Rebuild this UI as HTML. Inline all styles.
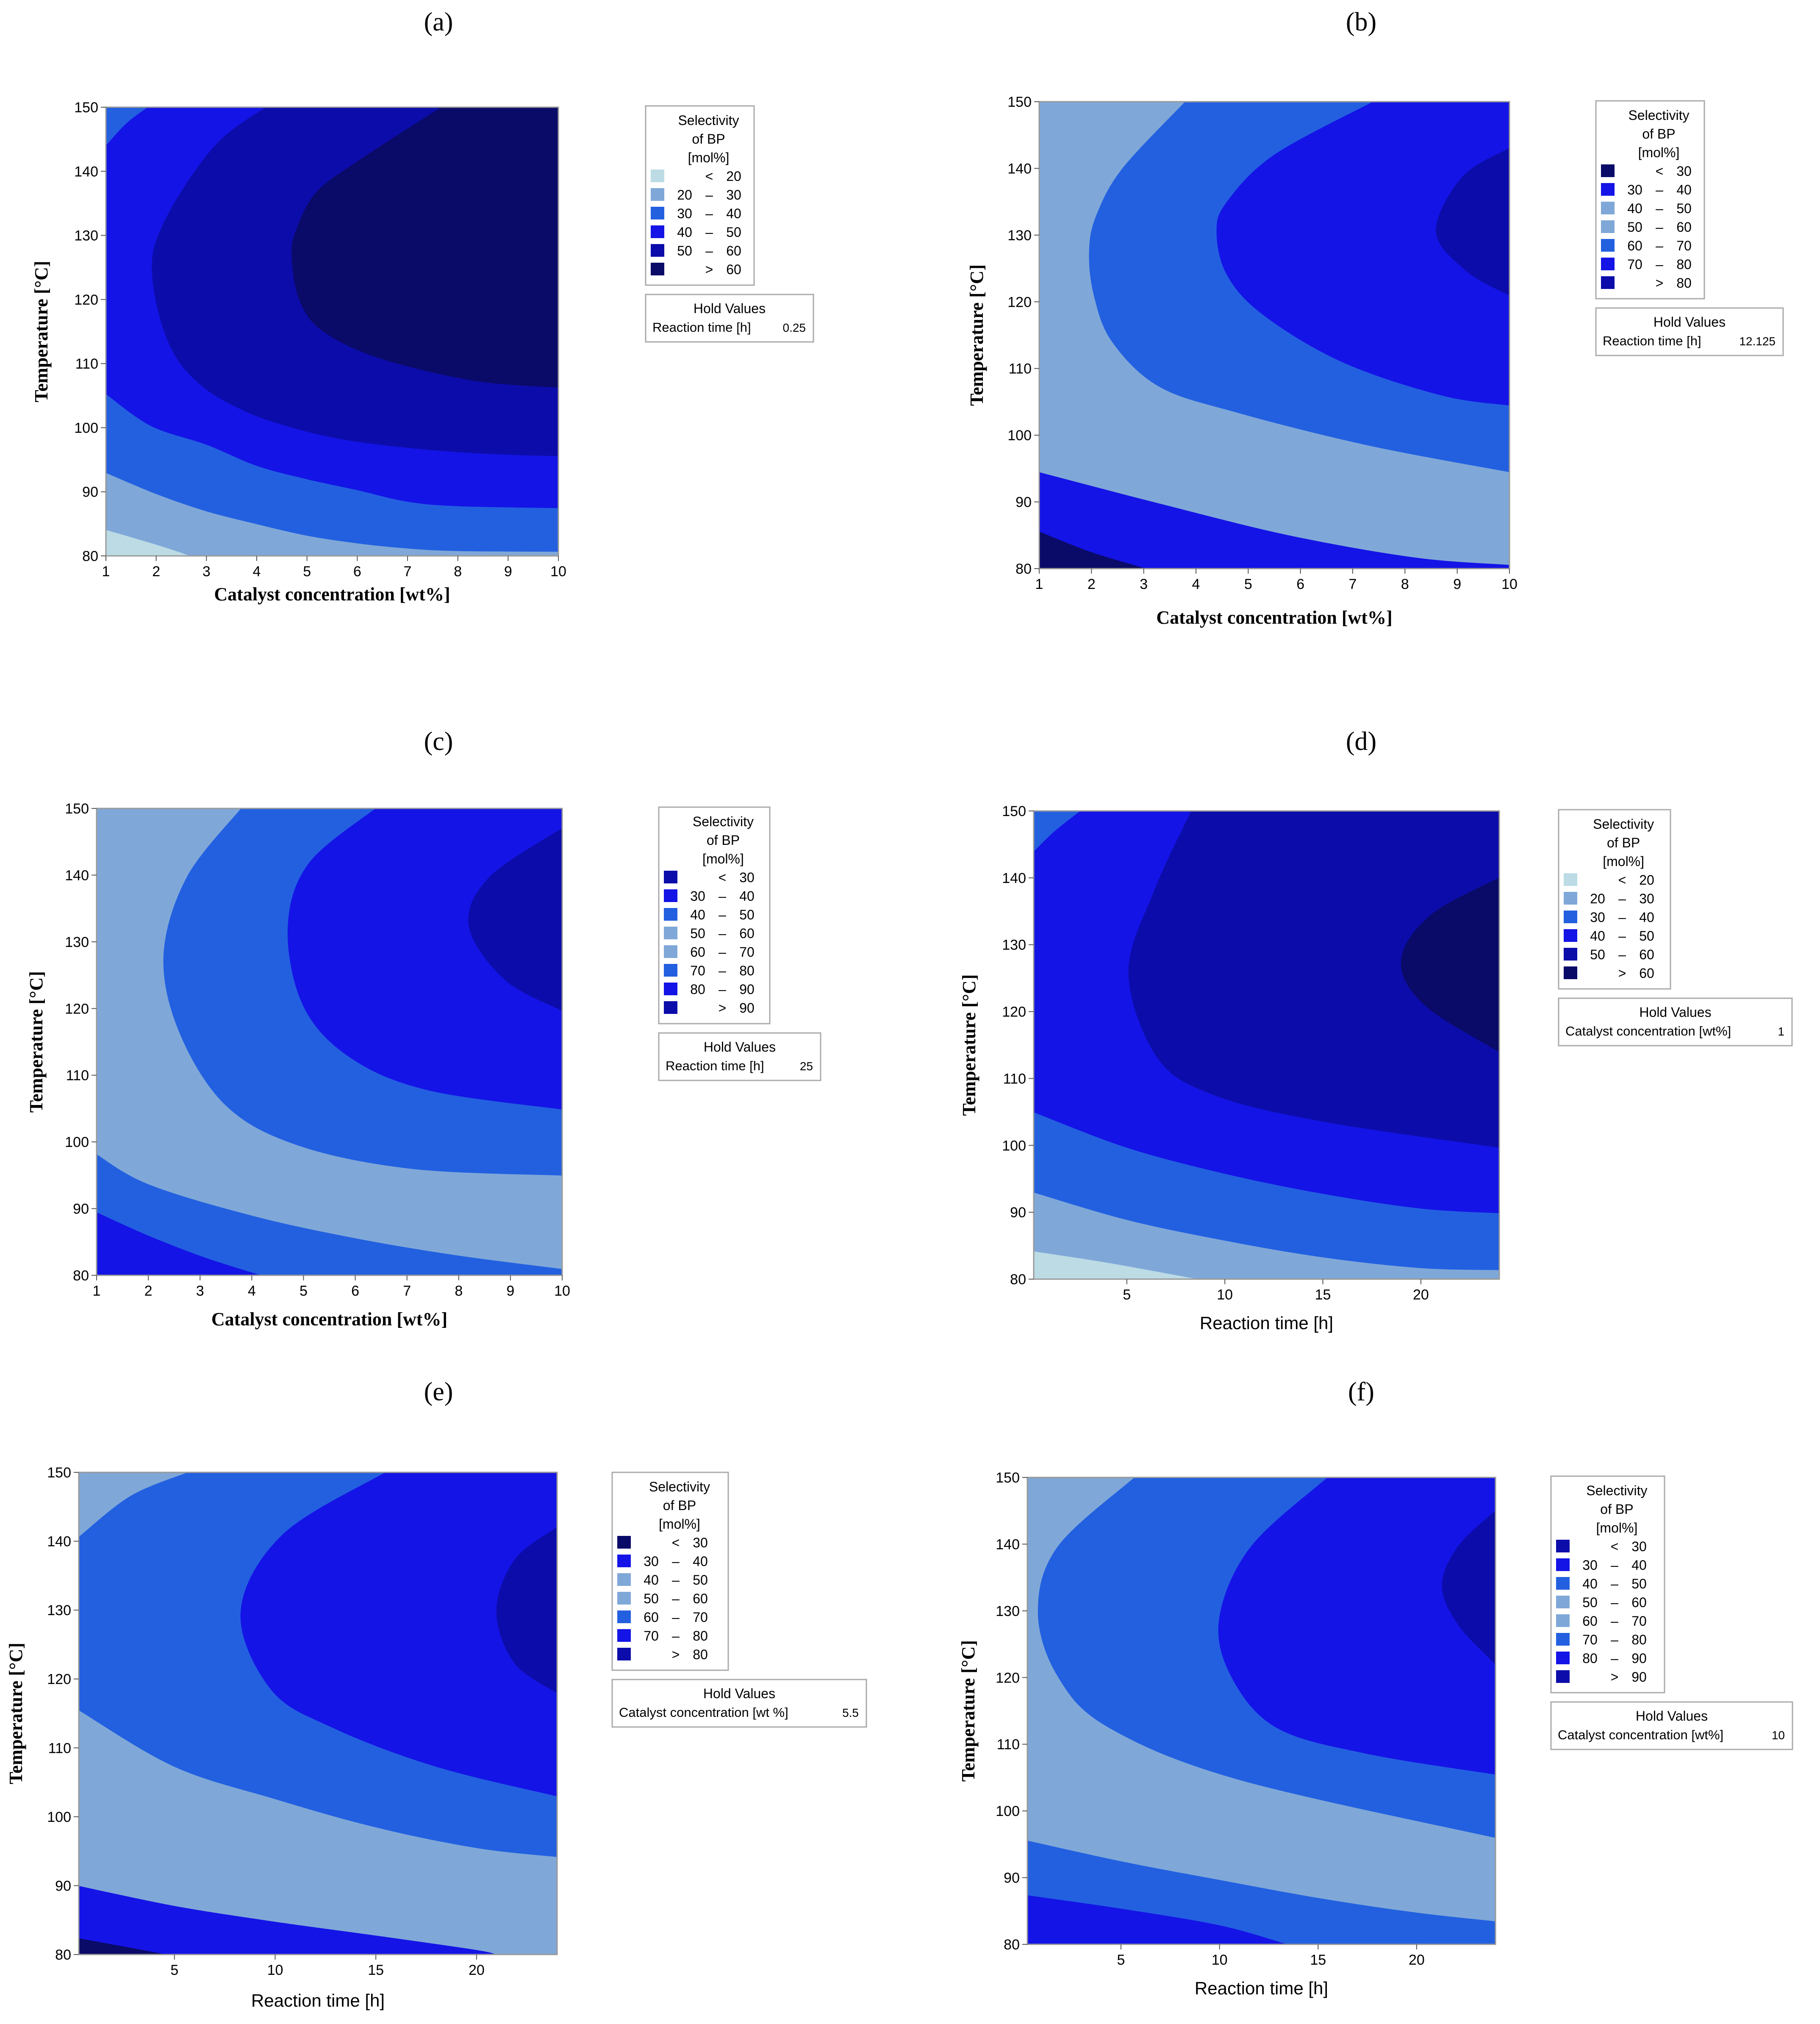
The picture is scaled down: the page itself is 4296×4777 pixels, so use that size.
<!DOCTYPE html>
<html><head><meta charset="utf-8"><style>
html,body{margin:0;padding:0;background:#fff;}
svg{display:block;}
</style></head><body>
<svg id="root" xmlns="http://www.w3.org/2000/svg" width="4296" height="4777" viewBox="0 0 4296 4777"></svg>
<script>
// ---- colours ----
const C_LIGHT='#bcdbe5', C_PALE='#7fa8d8', C_MID='#2360e0', C_BRIGHT='#1414e6', C_DARK='#0c0caa', C_NAVY='#0a0a68';

// ---- tick arrays ----
const yTicks=[80,90,100,110,120,130,140,150];
const catTicks=[1,2,3,4,5,6,7,8,9,10];
const timeTicks=[5,10,15,20];

// ---- legend arrays ----
const legA=[['','<','20',C_LIGHT],['20','–','30',C_PALE],['30','–','40',C_MID],['40','–','50',C_BRIGHT],['50','–','60',C_DARK],['','>','60',C_NAVY]];
const legB=[['','<','30',C_NAVY],['30','–','40',C_BRIGHT],['40','–','50',C_PALE],['50','–','60',C_PALE],['60','–','70',C_MID],['70','–','80',C_BRIGHT],['','>','80',C_DARK]];
const legC=[['','<','30',C_DARK],['30','–','40',C_BRIGHT],['40','–','50',C_MID],['50','–','60',C_PALE],['60','–','70',C_PALE],['70','–','80',C_MID],['80','–','90',C_BRIGHT],['','>','90',C_DARK]];

// ---- contour regions: [colour, smooth boundary curve, straight closing corners] (data units [x, temperature]) ----
const aBase=C_LIGHT;
const aRegions=[
 [C_PALE,[[1,84.1],[2,81.8],[2.7,80]],[[10,80],[10,150],[1,150]]],
 [C_MID,[[1,93],[2,89.7],[3,87],[4,85],[5,83.2],[6,82],[7,81.2],[8,80.8],[10,80.7]],[[10,150],[1,150]]],
 [C_BRIGHT,[[1,105.3],[1.9,100.3],[3,97.4],[4,94.1],[5,92],[6,90.3],[7,88.5],[8,87.8],[10,87.5]],[[10,150],[1,150]]],
 [C_MID,[[1.82,150],[1.4,147.5],[1,144.1]],[[1,150]]],
 [C_DARK,[[4.19,150],[3.3,145],[2.6,138],[2.1,131],[1.92,125.6],[2.05,118],[2.4,111],[3.0,106],[3.8,102.5],[4.6,100.3],[5.65,98.3],[7,96.9],[8.5,96],[10,95.6]],[[10,150]]],
 [C_NAVY,[[7.68,150],[6.1,142],[5.2,136.8],[4.8,131],[4.7,126.8],[4.85,120],[5.3,115.2],[6.4,111],[8.3,107.4],[10,106.3]],[[10,150]]]
];
const bBase=C_NAVY;
const bRegions=[
 [C_BRIGHT,[[1,85.6],[2,82.5],[3.07,80]],[[10,80],[10,150],[1,150]]],
 [C_PALE,[[1,94.5],[3.3,89.8],[5.8,85],[8.2,81.7],[10,80.6]],[[10,150],[1,150]]],
 [C_MID,[[3.8,150],[2.6,140],[2.1,133],[1.96,127.6],[2.05,121],[2.4,114],[3.3,107.3],[4.8,103.4],[7.3,98.5],[10,94.5]],[[10,150]]],
 [C_BRIGHT,[[7.4,150],[5.5,142],[4.6,135],[4.4,130.5],[4.6,124],[5.3,118],[6.8,111],[8.7,106],[10,104.5]],[[10,150]]],
 [C_DARK,[[10,143],[9.1,138.7],[8.6,130.5],[9.2,124.5],[10,121]],[]]
];
const cBase=C_BRIGHT;
const cRegions=[
 [C_MID,[[1,89.5],[2,86],[3.1,82.7],[4.2,80]],[[10,80],[10,150],[1,150]]],
 [C_PALE,[[1,98.2],[2,93.7],[4,89],[6,85.6],[8,83],[10,81]],[[10,150],[1,150]]],
 [C_MID,[[3.8,150],[2.75,139.7],[2.3,128],[2.6,116.5],[3.5,105.5],[4.9,99.5],[7.1,96],[10,95]],[[10,150]]],
 [C_BRIGHT,[[6.4,150],[5.1,141.7],[4.7,132],[5,120.4],[5.9,112.7],[7.4,107.8],[10,104.9]],[[10,150]]],
 [C_DARK,[[10,147],[8.6,139.7],[8.2,132.4],[8.9,124.3],[10,119.7]],[]]
];
const dBase=C_LIGHT;
const dRegions=[
 [C_PALE,[[0.25,84.2],[4,82.5],[8.7,80]],[[24,80],[24,150],[0.25,150]]],
 [C_MID,[[0.25,93],[5,88.9],[10,85.8],[15,83.3],[20,81.7],[24,81.4]],[[24,150],[0.25,150]]],
 [C_BRIGHT,[[0.25,105],[5,99.7],[10,95.8],[15,92.8],[20,90.6],[24,89.9]],[[24,150],[0.25,150]]],
 [C_MID,[[2.6,150],[1.3,147],[0.25,144]],[[0.25,150]]],
 [C_DARK,[[8.3,150],[6.4,138],[5.1,125.7],[6.6,113],[9.6,107.4],[15.2,103.5],[24,99.7]],[[24,150]]],
 [C_NAVY,[[24,140],[20.5,134.4],[19,127.6],[20.2,121],[24,114]],[]]
];
const eBase=C_NAVY;
const eRegions=[
 [C_BRIGHT,[[0.25,82.4],[2.5,81.2],[4.7,80]],[[24,80],[24,150],[0.25,150]]],
 [C_PALE,[[0.25,90],[5,87.1],[10,84.8],[15,82.8],[20,80.7],[21,80]],[[24,80],[24,150],[0.25,150]]],
 [C_MID,[[0.25,115.5],[5,107.3],[10,102.6],[15,98.5],[20,95.5],[24,94.2]],[[24,150],[0.25,150]]],
 [C_PALE,[[5.6,150],[2.8,146.6],[0.25,140.7]],[[0.25,150]]],
 [C_BRIGHT,[[15.5,150],[10.4,141],[8.3,129.8],[9.8,118.5],[12.9,112.9],[18,107.3],[24,103]],[[24,150]]],
 [C_DARK,[[24,142],[21.9,137.3],[21,129.8],[21.9,122.3],[24,118]],[]]
];
const fBase=C_BRIGHT;
const fRegions=[
 [C_MID,[[0.25,87.4],[5,85.4],[10,82.9],[13.5,80]],[[24,80],[24,150],[0.25,150]]],
 [C_PALE,[[0.25,95.6],[5,92.5],[10,89.7],[15,87],[20,84.8],[24,83.5]],[[24,150],[0.25,150]]],
 [C_MID,[[5.7,150],[1.8,139.6],[0.8,129.9],[1.8,120.2],[4.4,112.5],[11,104.7],[24,96]],[[24,150]]],
 [C_BRIGHT,[[15.5,150],[11.6,139.6],[10,128.9],[10.6,120.2],[12.9,112.5],[17.5,108.6],[24,105.5]],[[24,150]]],
 [C_DARK,[[24,145],[22.1,139.6],[21.3,133.8],[22.1,128],[24,122]],[]]
];

const NS='http://www.w3.org/2000/svg';
const root=document.getElementById('root');
function mk(tag,attrs,parent,text){
  const e=document.createElementNS(NS,tag);
  for(const k in attrs) e.setAttribute(k,attrs[k]);
  if(text!==undefined) e.textContent=text;
  (parent||root).appendChild(e);
  return e;
}
const SANS='"Liberation Sans", "DejaVu Sans", sans-serif';
const SERIF='"Liberation Serif", serif';

function smoothPath(pts){
  let d='M'+pts[0][0].toFixed(1)+','+pts[0][1].toFixed(1);
  for(let i=0;i<pts.length-1;i++){
    const p0=pts[i-1]||pts[i], p1=pts[i], p2=pts[i+1], p3=pts[i+2]||p2;
    const c1x=p1[0]+(p2[0]-p0[0])/6, c1y=p1[1]+(p2[1]-p0[1])/6;
    const c2x=p2[0]-(p3[0]-p1[0])/6, c2y=p2[1]-(p3[1]-p1[1])/6;
    d+=' C'+c1x.toFixed(1)+','+c1y.toFixed(1)+' '+c2x.toFixed(1)+','+c2y.toFixed(1)+' '+p2[0].toFixed(1)+','+p2[1].toFixed(1);
  }
  return d;
}

function panel(p){
  const g=mk('g',{});
  
  
  const sx=v=>p.x0+(v-p.xmin)/(p.xmax-p.xmin)*(p.x1-p.x0);
  const sy=v=>p.y1-(v-80)/(150-80)*(p.y1-p.y0);
  const t=mk('text',{x:p.tx,y:p.ty,'font-family':SERIF,'font-size':62,'text-anchor':'middle'},g,'('+p.id+')');
  
  
  const cid='clip'+p.id;
  const cp=mk('clipPath',{id:cid},g);
  mk('rect',{x:p.x0,y:p.y0,width:p.x1-p.x0,height:p.y1-p.y0},cp);
  const pg=mk('g',{'clip-path':'url(#'+cid+')'},g);
  
  
  const bg=mk('rect',{x:p.x0,y:p.y0,width:p.x1-p.x0,height:p.y1-p.y0,fill:p.base},pg);
  
  
  p.regions.forEach((r,i)=>{
    const curve=r[1].map(q=>[sx(q[0]),sy(q[1])]);
    let d=smoothPath(curve);
    r[2].forEach(q=>{ d+=' L'+sx(q[0]).toFixed(1)+','+sy(q[1]).toFixed(1); });
    d+=' Z';
    const path=mk('path',{d:d,fill:r[0],stroke:r[0],'stroke-width':1.5},pg);
    
    
  });
  const frame=mk('rect',{x:p.x0,y:p.y0,width:p.x1-p.x0,height:p.y1-p.y0,fill:'none',stroke:'#999','stroke-width':3},g);
  
  
  yTicks.forEach(v=>{
    const y=sy(v);
    mk('line',{x1:p.x0-12,x2:p.x0,y1:y,y2:y,stroke:'#555','stroke-width':2},g);
    const l=mk('text',{x:p.x0-18,y:y+12,'font-family':SANS,'font-size':34,'text-anchor':'end'},g,String(v));
    
    
  });
  p.xticks.forEach(v=>{
    const x=sx(v);
    mk('line',{x1:x,x2:x,y1:p.y1,y2:p.y1+12,stroke:'#555','stroke-width':2},g);
    const l=mk('text',{x:x,y:p.y1+48,'font-family':SANS,'font-size':34,'text-anchor':'middle'},g,String(v));
    
    
  });
  const xt=mk('text',{x:(p.x0+p.x1)/2,y:p.y1+p.xtOff,'font-family':p.xSerif?SERIF:SANS,'font-weight':p.xSerif?'bold':'normal','font-size':p.xSerif?44:42,'text-anchor':'middle'},g,p.xtitle);
  
  
  const yc=(p.y0+p.y1)/2;
  const yt=mk('text',{x:p.ytx,y:yc,'font-family':SERIF,'font-weight':'bold','font-size':44,'text-anchor':'middle',transform:'rotate(-90 '+p.ytx+' '+yc+')'},g,'Temperature [°C]');
  
  
  const lg=mk('g',{},g);
  
  
  const L=p.lx, T=p.ly, W=p.lw;
  const H=175+(p.leg.length-1)*44+28;
  mk('rect',{x:L,y:T,width:W,height:H,fill:'#fff',stroke:'#aaa','stroke-width':3},lg);
  ['Selectivity','of BP','[mol%]'].forEach((s,i)=>{
    mk('text',{x:L+W*0.58,y:T+45+i*44,'font-family':SANS,'font-size':32,'text-anchor':'middle'},lg,s);
  });
  p.leg.forEach((e,i)=>{
    const by=T+177+i*44;
    const sw=mk('rect',{x:L+12,y:by-27,width:32,height:30,fill:e[3]},lg);
    
    
    mk('text',{x:L+92,y:by,'font-family':SANS,'font-size':32,'text-anchor':'middle'},lg,e[0]);
    mk('text',{x:L+150,y:by,'font-family':SANS,'font-size':32,'text-anchor':'middle'},lg,e[1]);
    mk('text',{x:L+208,y:by,'font-family':SANS,'font-size':32,'text-anchor':'middle'},lg,e[2]);
  });
  const hg=mk('g',{},g);
  
  
  const HT=T+H+22;
  mk('rect',{x:L,y:HT,width:p.hw,height:112,fill:'#fff',stroke:'#aaa','stroke-width':3},hg);
  mk('text',{x:L+p.hw/2,y:HT+44,'font-family':SANS,'font-size':32,'text-anchor':'middle'},hg,'Hold Values');
  mk('text',{x:L+16,y:HT+88,'font-family':SANS,'font-size':31},hg,p.hlabel);
  mk('text',{x:L+p.hw-18,y:HT+88,'font-family':SANS,'font-size':28,'text-anchor':'end'},hg,p.hval);
}

const catTitle='Catalyst concentration [wt%]';
const rtTitle='Reaction time [h]';
panel({id:'a',x0:250,x1:1318,y0:253,y1:1312,xmin:1,xmax:10,xticks:catTicks,base:aBase,regions:aRegions,tx:1035,ty:72,xtitle:catTitle,xSerif:true,xtOff:105,ytx:112,lx:1524,ly:250,lw:256,leg:legA,hw:396,hlabel:'Reaction time [h]',hval:'0.25'});
panel({id:'b',x0:2453,x1:3563,y0:240,y1:1342,xmin:1,xmax:10,xticks:catTicks,base:bBase,regions:bRegions,tx:3213,ty:72,xtitle:catTitle,xSerif:true,xtOff:130,ytx:2320,lx:3767,ly:238,lw:256,leg:legB,hw:442,hlabel:'Reaction time [h]',hval:'12.125'});
panel({id:'c',x0:228,x1:1327,y0:1908,y1:3010,xmin:1,xmax:10,xticks:catTicks,base:cBase,regions:cRegions,tx:1035,ty:1770,xtitle:catTitle,xSerif:true,xtOff:118,ytx:100,lx:1555,ly:1905,lw:262,leg:legC,hw:382,hlabel:'Reaction time [h]',hval:'25'});
panel({id:'d',x0:2440,x1:3539,y0:1914,y1:3019,xmin:0.25,xmax:24,xticks:timeTicks,base:dBase,regions:dRegions,tx:3213,ty:1770,xtitle:rtTitle,xSerif:false,xtOff:118,ytx:2302,lx:3679,ly:1911,lw:264,leg:legA,hw:551,hlabel:'Catalyst concentration [wt%]',hval:'1'});
panel({id:'e',x0:186,x1:1315,y0:3475,y1:4613,xmin:0.25,xmax:24,xticks:timeTicks,base:eBase,regions:eRegions,tx:1035,ty:3305,xtitle:rtTitle,xSerif:false,xtOff:123,ytx:52,lx:1445,ly:3475,lw:274,leg:legB,hw:600,hlabel:'Catalyst concentration [wt %]',hval:'5.5'});
panel({id:'f',x0:2425,x1:3530,y0:3487,y1:4589,xmin:0.25,xmax:24,xticks:timeTicks,base:fBase,regions:fRegions,tx:3213,ty:3305,xtitle:rtTitle,xSerif:false,xtOff:118,ytx:2300,lx:3661,ly:3484,lw:268,leg:legC,hw:570,hlabel:'Catalyst concentration [wt%]',hval:'10'});
</script>
</body></html>
